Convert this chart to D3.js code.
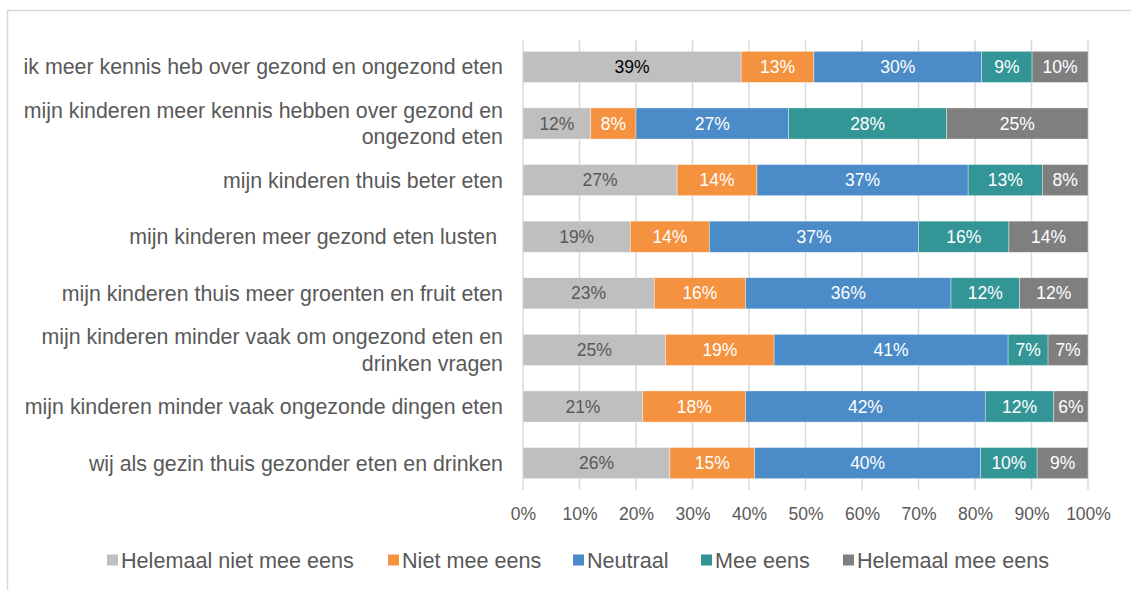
<!DOCTYPE html>
<html><head><meta charset="utf-8">
<script src="https://cdn.jsdelivr.net/npm/d3@7"></script>
<style>
body{margin:0;background:#fff;}
svg{display:block;font-family:"Liberation Sans",Arial,sans-serif;}
</style></head>
<body><svg id="c" width="1131" height="590"></svg>
<script>
const categories = [
  ["ik meer kennis heb over gezond en ongezond eten"],
  ["mijn kinderen meer kennis hebben over gezond en", "ongezond eten"],
  ["mijn kinderen thuis beter eten"],
  ["mijn kinderen meer gezond eten lusten "],
  ["mijn kinderen thuis meer groenten en fruit eten"],
  ["mijn kinderen minder vaak om ongezond eten en", "drinken vragen"],
  ["mijn kinderen minder vaak ongezonde dingen eten"],
  ["wij als gezin thuis gezonder eten en drinken"]
];
const seriesNames = ["Helemaal niet mee eens","Niet mee eens","Neutraal","Mee eens","Helemaal mee eens"];
const helemaalNiet = [39,12,27,19,23,25,21,26];
const niet         = [13, 8,14,14,16,19,18,15];
const neutraal     = [30,27,37,37,36,41,42,40];
const mee          = [ 9,28,13,16,12, 7,12,10];
const helemaalMee  = [10,25, 8,14,12, 7, 6, 9];
const tickLabels = ["0%","10%","20%","30%","40%","50%","60%","70%","80%","90%","100%"];
const colors = ["#bfbfbf","#f59240","#4a8bc8","#339595","#7f7f7f"];
const labelColors = ["#595959","#ffffff","#ffffff","#ffffff","#ffffff"];

const seriesVals = [helemaalNiet, niet, neutraal, mee, helemaalMee];
const rows = categories.map((c,i)=>{
  const o = {key:i};
  seriesNames.forEach((s,j)=>o[s]=seriesVals[j][i]);
  return o;
});

const svg = d3.select("#c");
// outer chart border
svg.append("rect").attr("x",7.5).attr("y",10.5).attr("width",1140).attr("height",600)
  .attr("fill","none").attr("stroke","#d9d9d9").attr("stroke-width",1.5);

const x = d3.scaleLinear().domain([0,1]).range([523,1088]);
const y = d3.scaleBand().domain(d3.range(categories.length)).range([40,490])
  .paddingInner(0.45).paddingOuter(0.2);

// gridlines
svg.append("g").selectAll("line").data(d3.range(0,1.0001,0.1)).join("line")
  .attr("x1",d=>x(d)).attr("x2",d=>x(d)).attr("y1",40).attr("y2",490)
  .attr("stroke","#d9d9d9").attr("stroke-width",1.5);

// tick labels
const xAxis = d3.axisBottom(x).tickValues(d3.range(0,1.0001,0.1))
  .tickFormat((d,i)=>tickLabels[i]).tickSize(0).tickPadding(0);
const gx = svg.append("g").attr("transform","translate(0,526)").call(xAxis);
gx.select(".domain").remove();
gx.selectAll("text").attr("font-size","17.5px").attr("fill","#595959")
  .attr("font-family","Liberation Sans, Arial, sans-serif").attr("dy","-0.35em").attr("y",0);

const stack = d3.stack().keys(seriesNames).offset(d3.stackOffsetExpand);
const stacked = stack(rows);

const groups = svg.append("g").selectAll("g").data(stacked).join("g")
  .attr("fill",(d,i)=>colors[i]);
groups.selectAll("rect").data(d=>d).join("rect")
  .attr("x",d=>x(d[0])).attr("width",d=>x(d[1])-x(d[0]))
  .attr("y",(d,i)=>y(i)).attr("height",y.bandwidth())
  .attr("stroke","#ffffff").attr("stroke-width",0.6).attr("stroke-opacity",0.6);

// data labels
stacked.forEach((s,si)=>{
  svg.append("g").selectAll("text").data(s).join("text")
    .attr("x",d=>(x(d[0])+x(d[1]))/2)
    .attr("y",(d,i)=>y(i)+y.bandwidth()/2)
    .attr("dy","0.35em").attr("text-anchor","middle")
    .attr("font-size","17.5px")
    .attr("fill",(d,i)=> (si===0 && i===0) ? "#000000" : labelColors[si])
    .text(d=>d.data[s.key]+"%");
});

// category labels
const cat = svg.append("g").selectAll("text").data(categories).join("text")
  .attr("text-anchor","end").attr("font-size","21.35px").attr("fill","#595959")
  .attr("style","white-space:pre")
  .attr("y",(d,i)=>y(i)+y.bandwidth()/2);
cat.each(function(lines,i){
  const t = d3.select(this);
  const lh = 26.5;
  const start = -(lines.length-1)*lh/2;
  lines.forEach((l,k)=>{
    t.append("tspan").attr("x",503).attr("dy", k===0 ? (start/21.35+0.35)+"em" : lh+"px").text(l);
  });
});

// legend
const legendX = [107,388,573,701,843];
const lg = svg.append("g").selectAll("g").data(seriesNames).join("g")
  .attr("transform",(d,i)=>`translate(${legendX[i]},560)`);
lg.append("rect").attr("x",0).attr("y",-5.5).attr("width",11).attr("height",11)
  .attr("fill",(d,i)=>colors[i]);
lg.append("text").attr("x",14).attr("dy","0.35em").attr("font-size","21.6px")
  .attr("fill","#595959").text(d=>d);
</script></body></html>
